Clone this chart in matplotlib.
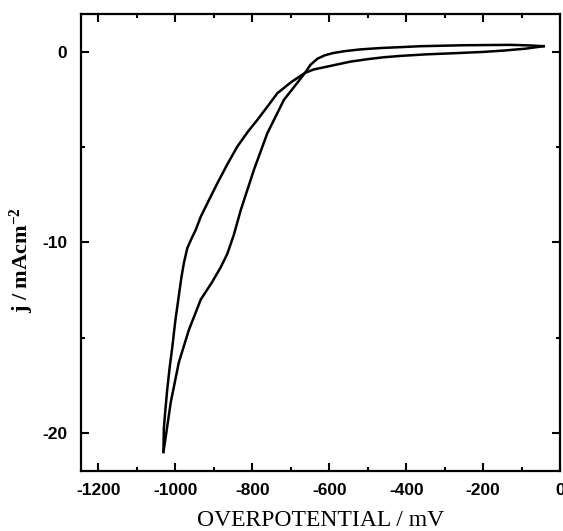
import matplotlib
matplotlib.use("Agg")
import matplotlib.pyplot as plt
from matplotlib.ticker import MultipleLocator

plt.rcParams['axes.unicode_minus'] = False
plt.rcParams['mathtext.fontset'] = 'custom'
plt.rcParams['mathtext.rm'] = 'Liberation Serif:bold'
plt.rcParams['mathtext.it'] = 'Liberation Serif:bold'
plt.rcParams['mathtext.bf'] = 'Liberation Serif:bold'

# forward sweep: from the right tip, upper branch, then inner branch down to the vertex
fwd_mv = [-43, -80, -129, -250, -362, -415, -470, -520, -560, -590, -612, -631, -649,
          -663, -690, -718, -761, -796, -830, -848, -865, -882, -905, -934, -965,
          -991, -1012, -1025, -1031]
fwd_j = [0.3, 0.34, 0.37, 0.35, 0.3, 0.25, 0.2, 0.13, 0.04, -0.06, -0.18, -0.36, -0.68,
         -1.1, -1.8, -2.52, -4.27, -6.2, -8.3, -9.6, -10.6, -11.3, -12.1, -13.0, -14.6,
         -16.3, -18.4, -20.2, -21.0]

# return sweep: from the vertex up the outer branch, then lower branch back to the tip
rev_mv = [-1031, -1030, -1026, -1021, -1015, -1008, -1000, -991, -984, -978, -969,
          -958, -947, -934, -912, -891, -865, -839, -812, -787, -760, -735, -700,
          -663, -640, -605, -545, -500, -458, -415, -350, -277, -200, -147, -90, -43]
rev_j = [-21.0, -19.8, -18.8, -17.7, -16.6, -15.5, -14.1, -12.8, -11.8, -11.1, -10.3,
         -9.8, -9.34, -8.65, -7.75, -6.9, -5.9, -4.97, -4.2, -3.57, -2.85, -2.17, -1.6,
         -1.1, -0.92, -0.77, -0.51, -0.38, -0.28, -0.21, -0.13, -0.07, 0.0, 0.07, 0.17, 0.3]

x_major = [-1200, -1000, -800, -600, -400, -200, 0]
y_major = [0, -10, -20]

fig = plt.figure(figsize=(5.63, 5.31), dpi=100)
ax = fig.add_axes([0.144, 0.113, 0.851, 0.861])

ax.plot(fwd_mv, fwd_j, color='black', lw=1.8, solid_joinstyle='round')
ax.plot(rev_mv, rev_j, color='black', lw=1.8, solid_joinstyle='round')

ax.set_xlim(-1245, 0)
ax.set_ylim(-22, 2)
ax.set_xticks(x_major)
ax.set_yticks(y_major)
ax.xaxis.set_minor_locator(MultipleLocator(100))
ax.yaxis.set_minor_locator(MultipleLocator(5))

ax.tick_params(which='both', direction='in', top=True, right=True, width=1.5)
ax.tick_params(which='major', length=6)
ax.tick_params(which='minor', length=3)
ax.tick_params(axis='x', which='major', pad=9)
ax.tick_params(axis='y', which='major', pad=10)
for lab in ax.get_xticklabels() + ax.get_yticklabels():
    lab.set_fontfamily('Liberation Sans')
    lab.set_fontweight('bold')
    lab.set_fontsize(12.5)

for sp in ax.spines.values():
    sp.set_linewidth(1.6)

ax.set_xlabel('OVERPOTENTIAL / mV', fontfamily='Liberation Serif', fontsize=17, labelpad=8)
ax.set_ylabel(r'j / mAcm$^{-2}$', fontfamily='Liberation Serif', fontweight='bold',
              fontsize=16)
ax.yaxis.set_label_coords(-0.094, 0.462)

fig.savefig('out.png', dpi=100)
